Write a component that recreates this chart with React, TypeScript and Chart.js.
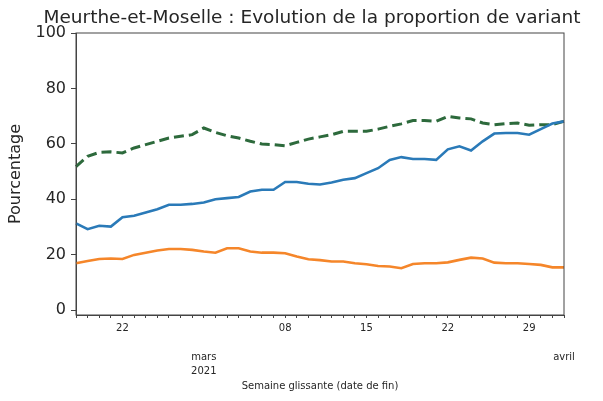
import React, { useEffect, useRef } from "react";
import { Chart, registerables } from "chart.js";

Chart.register(...registerables);

const dates: string[] = [
  "2021-02-18", "2021-02-19", "2021-02-20", "2021-02-21", "2021-02-22", "2021-02-23", "2021-02-24",
  "2021-02-25", "2021-02-26", "2021-02-27", "2021-02-28", "2021-03-01", "2021-03-02", "2021-03-03",
  "2021-03-04", "2021-03-05", "2021-03-06", "2021-03-07", "2021-03-08", "2021-03-09", "2021-03-10",
  "2021-03-11", "2021-03-12", "2021-03-13", "2021-03-14", "2021-03-15", "2021-03-16", "2021-03-17",
  "2021-03-18", "2021-03-19", "2021-03-20", "2021-03-21", "2021-03-22", "2021-03-23", "2021-03-24",
  "2021-03-25", "2021-03-26", "2021-03-27", "2021-03-28", "2021-03-29", "2021-03-30", "2021-03-31",
  "2021-04-01",
];

const blueValues: number[] = [
  31.3, 29.2, 30.4, 30.1, 33.5, 34.0, 35.2, 36.4, 38.0, 38.0, 38.3, 38.8, 40.0, 40.4, 40.8,
  42.8, 43.4, 43.4, 46.2, 46.2, 45.6, 45.3, 46.0, 47.0, 47.6, 49.4, 51.2, 54.2, 55.2, 54.5,
  54.5, 54.2, 58.0, 59.1, 57.6, 60.9, 63.7, 63.9, 63.9, 63.3, 65.3, 67.3, 68.1,
];

const orangeValues: number[] = [
  16.9, 17.7, 18.4, 18.6, 18.4, 19.9, 20.7, 21.5, 22.0, 22.0, 21.7, 21.1, 20.7, 22.3, 22.3,
  21.1, 20.7, 20.7, 20.5, 19.3, 18.3, 18.0, 17.5, 17.5, 16.9, 16.5, 15.9, 15.7, 15.1, 16.6,
  16.9, 16.9, 17.2, 18.1, 18.9, 18.6, 17.1, 16.9, 16.9, 16.6, 16.3, 15.4, 15.4,
];

const greenValues: number[] = [
  51.8, 55.5, 56.9, 57.1, 56.7, 58.5, 59.7, 60.9, 62.1, 62.7, 63.3, 65.7, 64.1, 62.9, 62.1,
  60.9, 59.9, 59.7, 59.3, 60.5, 61.7, 62.5, 63.3, 64.5, 64.5, 64.5, 65.3, 66.3, 67.2, 68.4,
  68.4, 68.1, 69.9, 69.3, 69.0, 67.5, 66.9, 67.3, 67.5, 66.7, 66.9, 66.9, 68.1,
];

const seriesNames: string[] = ["Variant UK", "Variants ZA/BR", "Total variants"];

const dayLabels: Record<string, string> = {
  "2021-02-22": "22",
  "2021-03-08": "08",
  "2021-03-15": "15",
  "2021-03-22": "22",
  "2021-03-29": "29",
};

const monthLabels: Record<string, string[]> = {
  "2021-03-01": ["mars", "2021"],
  "2021-04-01": ["avril"],
};

const yTicks: number[] = [0, 20, 40, 60, 80, 100];

const titleText = "Meurthe-et-Moselle : Evolution de la proportion de variant";
const yTitle = "Pourcentage";
const xTitle = "Semaine glissante (date de fin)";

const FONT = "'DejaVu Sans', sans-serif";
const TEXT = "#262626";
const AXIS = "#444444";

const framePlugin = {
  id: "frame",
  afterDatasetsDraw(chart: any) {
    const { ctx, chartArea } = chart;
    ctx.save();
    ctx.strokeStyle = AXIS;
    ctx.lineWidth = 1;
    ctx.strokeRect(chartArea.left, chartArea.top, chartArea.right - chartArea.left, chartArea.bottom - chartArea.top);
    ctx.restore();
  },
};

const wideTitlePlugin = {
  id: "wideTitle",
  afterDraw(chart: any) {
    const { ctx, chartArea } = chart;
    ctx.save();
    ctx.fillStyle = TEXT;
    ctx.font = `18.5px ${FONT}`;
    ctx.textAlign = "center";
    ctx.textBaseline = "middle";
    ctx.fillText(titleText, (chartArea.left + chartArea.right) / 2 - 8, 18);
    ctx.restore();
  },
};

export default function App() {
  const ref = useRef<HTMLCanvasElement>(null);

  useEffect(() => {
    if (!ref.current) return;
    const chart = new Chart(ref.current, {
      type: "line",
      data: {
        labels: dates,
        datasets: [
          {
            label: seriesNames[0],
            data: blueValues,
            borderColor: "#2a7ab8",
            borderWidth: 2.6,
            pointRadius: 0,
            tension: 0,
            xAxisID: "x",
          },
          {
            label: seriesNames[1],
            data: orangeValues,
            borderColor: "#f5862a",
            borderWidth: 2.6,
            pointRadius: 0,
            tension: 0,
            xAxisID: "x",
          },
          {
            label: seriesNames[2],
            data: greenValues,
            borderColor: "#2d6a3c",
            borderWidth: 3,
            borderDash: [10, 5],
            pointRadius: 0,
            tension: 0,
            xAxisID: "x",
          },
        ],
      },
      options: {
        animation: false,
        responsive: true,
        maintainAspectRatio: false,
        layout: { padding: { left: 0, right: 39, top: 33, bottom: 0 } },
        plugins: {
          legend: { display: false },
          tooltip: { enabled: false },
          title: { display: false },
        },
        scales: {
          x: {
            type: "category",
            position: "bottom",
            offset: false,
            grid: {
              display: true,
              drawOnChartArea: false,
              drawTicks: true,
              tickLength: 3,
              tickColor: AXIS,
            },
            border: { display: true, color: AXIS, width: 1 },
            ticks: {
              autoSkip: false,
              maxRotation: 0,
              minRotation: 0,
              padding: 4,
              color: TEXT,
              font: { family: FONT, size: 10 },
              callback: (_v: any, i: number) => dayLabels[dates[i]] ?? "",
            },
            afterFit: (s: any) => {
              s.height = 20;
            },
          },
          x2: {
            type: "category",
            position: "bottom",
            offset: false,
            grid: { display: false, drawTicks: false },
            border: { display: false },
            ticks: {
              autoSkip: false,
              maxRotation: 0,
              minRotation: 0,
              padding: 15,
              color: TEXT,
              font: { family: FONT, size: 10, lineHeight: 1.4 },
              callback: (_v: any, i: number) => monthLabels[dates[i]] ?? "",
            },
            title: {
              display: true,
              text: xTitle,
              color: TEXT,
              font: { family: FONT, size: 10 },
              padding: { top: 0, bottom: 9 },
            },
            afterFit: (s: any) => {
              s.height = 66;
            },
          },
          y: {
            type: "linear",
            min: -1.8,
            max: 100,
            grid: {
              display: true,
              drawOnChartArea: false,
              drawTicks: true,
              tickLength: 5,
              tickColor: AXIS,
            },
            border: { display: true, color: AXIS, width: 1 },
            afterBuildTicks: (s: any) => {
              s.ticks = yTicks.map((v) => ({ value: v }));
            },
            ticks: {
              padding: 5,
              color: TEXT,
              font: { family: FONT, size: 16 },
            },
            title: {
              display: true,
              text: yTitle,
              color: TEXT,
              font: { family: FONT, size: 16 },
              padding: { top: 6, bottom: 0 },
            },
            afterFit: (s: any) => {
              s.width = 76;
            },
          },
        },
      },
      plugins: [framePlugin, wideTitlePlugin],
    });
    return () => chart.destroy();
  }, []);

  return (
    <div style={{ position: "absolute", left: 0, top: 0, width: 603, height: 401, background: "#fff" }}>
      <canvas ref={ref} />
    </div>
  );
}
